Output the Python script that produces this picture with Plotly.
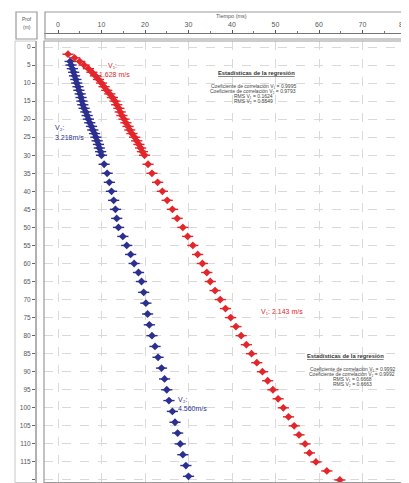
import plotly.graph_objects as go

# ---------------- data ----------------
blue_depth = [4, 5, 6, 7, 8, 9, 10, 11, 12, 13, 14, 15, 16, 17, 18, 19, 20, 21, 22, 23, 24, 25,
              26, 27, 28, 29, 30, 32.5, 35, 37.5, 40, 42.5, 45, 47.5, 50, 52.5, 55, 57.5, 60,
              62.5, 65, 68, 71, 74, 77, 80, 83, 86, 89, 92, 95, 98, 101, 104, 107, 110, 113,
              116, 119]
blue_time = [2.8, 3.0, 3.3, 3.6, 3.8, 4.1, 4.3, 4.6, 4.8, 5.1, 5.3, 5.5, 5.7, 6.0, 6.4, 6.7, 7.0,
             7.3, 7.7, 8.0, 8.4, 8.7, 9.0, 9.3, 9.5, 9.8, 10.0, 10.6, 11.3, 11.8, 12.3, 12.8,
             13.2, 13.5, 13.9, 14.9, 15.8, 16.7, 17.5, 18.5, 19.2, 19.7, 20.2, 20.6, 21.0, 21.6,
             22.3, 23.0, 23.8, 24.5, 25.0, 25.5, 26.3, 26.9, 27.5, 28.1, 28.7, 29.4, 30.0]

red_depth = [2, 3, 4, 5, 6, 7, 8, 9, 10, 11, 12, 13, 14, 15, 16, 17, 18, 19, 20, 21, 22, 23, 24,
             25, 26, 27, 28, 29, 30, 32.5, 35, 37.5, 40, 42.5, 45, 47.5, 50, 52.5, 55, 57.5, 60,
             62.5, 65, 67.5, 70, 72.5, 75, 77.5, 80, 82.5, 85, 87.5, 90, 92.5, 95, 97.5, 100,
             102.5, 105, 107.5, 110, 112.5, 115, 117.5, 120]
red_time = [2.3, 3.8, 5.0, 6.0, 7.0, 7.8, 8.6, 9.3, 10.0, 10.6, 11.2, 11.9, 12.5, 13.1, 13.5,
            14.0, 14.3, 14.7, 15.2, 15.6, 16.1, 16.5, 17.0, 17.6, 18.1, 18.6, 19.0, 19.4, 19.9,
            20.7, 21.6, 22.9, 24.0, 25.1, 26.3, 27.4, 28.7, 29.8, 31.0, 32.1, 33.2, 34.2, 35.0,
            36.1, 37.3, 38.5, 39.7, 40.9, 42.1, 43.3, 44.5, 45.7, 47.0, 48.2, 49.4, 50.6, 51.8,
            53.0, 54.3, 55.4, 56.8, 57.8, 59.3, 61.8, 64.8]

x_ticks = [0, 10, 20, 30, 40, 50, 60, 70, 80]
x_minor = [5, 15, 25, 35, 45, 55, 65, 75]
y_ticks = list(range(0, 121, 5))

stats1 = ["Coeficiente de correlación V₁ = 0.9995",
          "Coeficiente de correlación V₂ = 0.9793",
          "RMS V₁ = 0.1624",
          "RMS V₂ = 0.5549"]
stats2 = ["Coeficiente de correlación V₁ = 0.9992",
          "Coeficiente de correlación V₂ = 0.9992",
          "RMS V₁ = 0.6668",
          "RMS V₂ = 0.6663"]

# page has an 8px body margin: the figure is placed at (8, 8) in the window
OFF = 8
W, H = 409 - OFF, 483 - OFF
BLUE = "#2b2f8f"
RED = "#e3262b"
GRID = "#d9d9d9"
FRAME = "#9a9a9a"
FONT = "Liberation Sans"


def px(x):
    return (x - OFF) / W


def py(y):
    return 1 - (y - OFF) / H


fig = go.Figure()

for d, t, c in [(blue_depth, blue_time, BLUE), (red_depth, red_time, RED)]:
    fig.add_trace(go.Scatter(x=t, y=d, mode="markers", showlegend=False, hoverinfo="skip",
                             marker=dict(symbol="line-ew", size=8, color=c,
                                         line=dict(color=c, width=1.4))))
    fig.add_trace(go.Scatter(x=t, y=d, mode="markers", showlegend=False,
                             marker=dict(symbol="diamond", size=6, color=c,
                                         line=dict(width=0))))

# dummy trace to draw the header time axis
fig.add_trace(go.Scatter(x=[None], y=[None], xaxis="x2", showlegend=False))

x_range = [(44 - 58) / 4.35, (409 - 58) / 4.35]
y_range = [(483 - 47) / 3.608, (41 - 47) / 3.608]

fig.update_layout(
    width=W, height=H,
    margin=dict(l=0, r=0, t=0, b=0),
    paper_bgcolor="white", plot_bgcolor="white",
    font=dict(family=FONT, color="#555"),
    xaxis=dict(domain=[px(44), 1], range=x_range, showticklabels=False, ticks="",
               showline=False, zeroline=False, showgrid=True, gridcolor=GRID,
               griddash="dash", gridwidth=1, tickvals=x_ticks),
    xaxis2=dict(overlaying="x", anchor="free", position=py(33), side="top",
                range=x_range, tickvals=x_ticks, ticktext=[str(v) for v in x_ticks],
                ticklabeloverflow="allow",
                showgrid=False, zeroline=False, showline=True, linecolor="#777",
                linewidth=1, ticks="outside", ticklen=3, tickcolor="#555",
                minor=dict(ticks="outside", tickvals=x_minor, ticklen=2, tickcolor="#777"),
                tickfont=dict(size=7, color="#555")),
    yaxis=dict(domain=[0, py(41)], range=y_range, anchor="free", position=px(36),
               tickvals=y_ticks, ticks="outside", ticklen=3, tickcolor="#666",
               showline=True, linecolor="#999", linewidth=2,
               showgrid=True, gridcolor=GRID, griddash="dash", zeroline=False,
               tickfont=dict(size=6.5, color="#555")),
)

shapes = []
shapes.append(dict(type="rect", xref="paper", yref="paper", x0=px(44), x1=px(408.5),
                   y0=py(482.5), y1=py(41), line=dict(color=FRAME, width=1.2)))
shapes.append(dict(type="rect", xref="paper", yref="paper", x0=px(45), x1=px(408.5),
                   y0=py(39), y1=py(12), line=dict(color=FRAME, width=1.2)))
shapes.append(dict(type="rect", xref="paper", yref="paper", x0=px(16), x1=px(37),
                   y0=py(39), y1=py(12), line=dict(color=FRAME, width=1.2)))
shapes.append(dict(type="rect", xref="paper", yref="paper", x0=px(15), x1=px(36),
                   y0=py(482.5), y1=py(41), line=dict(color="#c8c8c8", width=1)))
fig.update_layout(shapes=shapes)

ann = []


def text(x, y, s, size=5, color="#555", xanchor="center"):
    ann.append(dict(xref="paper", yref="paper", x=px(x), y=py(y), text=s, showarrow=False,
                    xanchor=xanchor, yanchor="middle",
                    font=dict(size=size, color=color, family=FONT)))


# last time-axis label at the right page edge
text(409, 25, str(x_ticks[-1]), size=7, xanchor="right")

text(232, 16, "Tiempo (ms)", size=5.5)
text(26.5, 19, "Prof", size=5)
text(26.5, 27, "(m)", size=5)

text(106, 66, "V₁:", size=7, color=RED, xanchor="left")
text(97, 75, "1.628 m/s", size=7, color=RED, xanchor="left")
text(53, 127, "V₂:", size=7, color=BLUE, xanchor="left")
text(53, 137, "3.218m/s", size=7, color=BLUE, xanchor="left")
text(259, 311, "V₁: 2.143 m/s", size=7, color=RED, xanchor="left")
text(176, 399, "V₂:", size=7, color=BLUE, xanchor="left")
text(176, 408, "4.560m/s", size=7, color=BLUE, xanchor="left")

text(256, 73, "<b><u>Estadísticas de la regresión</u></b>", size=5.8, color="#333")
for i, s in enumerate(stats1):
    text(253, 86 + i * 5, s, size=5, color="#444")
text(345, 356, "<b><u>Estadísticas de la regresión</u></b>", size=5.8, color="#333")
for i, s in enumerate(stats2):
    text(352, 369 + i * 5, s, size=5, color="#444")

fig.update_layout(annotations=ann)

fig.write_html("out.html")
